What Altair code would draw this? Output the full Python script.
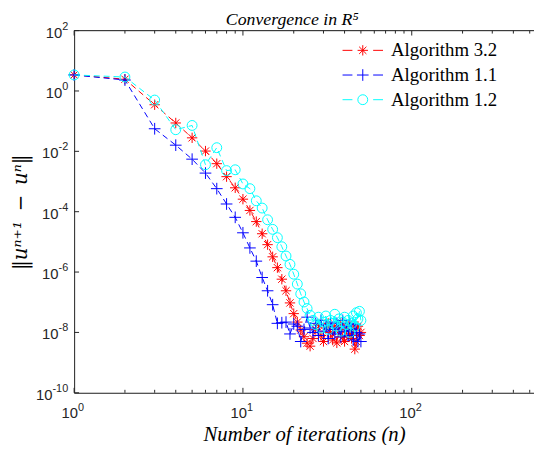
import altair as alt
import pandas as pd

iterations = list(range(1, 51))

alg32 = [3.4, 2.45, 3.5e-1, 8.7e-2, 2.8e-2, 1.02e-2, 3.9e-3, 1.45e-3, 6.2e-4, 2.6e-4,
         1.1e-4, 4.7e-5, 1.86e-5, 8.1e-6, 3.2e-6, 1.4e-6, 5.8e-7, 2.4e-7, 9.5e-8, 4.2e-8,
         2.2e-8, 1.2e-8, 7.2e-9, 4.4e-9, 3.5e-9, 6.3e-9, 1.26e-8, 1.8e-8, 7.9e-9, 5.0e-9,
         1.4e-8, 2.0e-8, 1.0e-8, 5.6e-9, 1.6e-8, 4.5e-9, 1.1e-8, 2.0e-8, 7.1e-9, 5.0e-9,
         1.26e-8, 1.8e-8, 8.9e-9, 6.3e-9, 1.4e-8, 2.8e-9, 5.0e-9, 1.6e-8, 7.9e-9, 1.0e-8]

alg11 = [3.4, 2.3, 5.6e-2, 1.6e-2, 5.5e-3, 1.9e-3, 5.8e-4, 1.8e-4, 6.5e-5, 2.0e-5,
         6.3e-6, 2.3e-6, 6.6e-7, 2.4e-7, 8.3e-8, 2.0e-8, 2.1e-8, 2.2e-8, 8.9e-9, 1.9e-8,
         1.6e-8, 5.0e-9, 1.26e-8, 3.2e-8, 1.4e-8, 1.0e-8, 2.0e-8, 7.9e-9, 2.5e-8, 1.1e-8,
         1.8e-8, 6.3e-9, 2.2e-8, 1.26e-8, 8.9e-9, 2.0e-8, 1.4e-8, 7.1e-9, 2.5e-8, 1.1e-8,
         1.6e-8, 7.9e-9, 2.0e-8, 1.26e-8, 5.6e-9, 1.8e-8, 1.0e-8, 5.0e-9, 8.9e-9, 5.0e-9]

alg12 = [3.4, 2.9, 5.0e-1, 5.2e-2, 7.2e-2, 3.6e-3, 1.32e-2, 2.3e-3, 2.45e-3, 8.3e-4,
         5.8e-4, 2.3e-4, 1.32e-4, 5.4e-5, 2.6e-5, 1.38e-5, 6.9e-6, 3.4e-6, 1.8e-6, 8.5e-7,
         4.0e-7, 1.9e-7, 1.02e-7, 6.2e-8, 3.7e-8, 2.5e-8, 1.8e-8, 3.2e-8, 1.4e-8, 2.2e-8,
         3.5e-8, 1.26e-8, 2.5e-8, 2.0e-8, 4.0e-8, 1.6e-8, 2.8e-8, 1.1e-8, 2.2e-8, 3.2e-8,
         1.8e-8, 2.5e-8, 1.0e-8, 2.0e-8, 3.5e-8, 1.6e-8, 4.5e-8, 2.8e-8, 5.0e-8, 2.5e-8]

series_names = ["Algorithm 3.2", "Algorithm 1.1", "Algorithm 1.2"]
series_colors = ["#ff0000", "#0000ff", "#00ffff"]

x_major_ticks = [1, 10, 100]
x_minor_ticks = [2, 3, 4, 5, 6, 7, 8, 9, 20, 30, 40, 50, 60, 70, 80, 90, 200, 300, 400, 500]
x_tick_exponents = ["0", "1", "2"]
y_ticks = [1e2, 1e0, 1e-2, 1e-4, 1e-6, 1e-8, 1e-10]
y_tick_exponents = ["2", "0", "-2", "-4", "-6", "-8", "-10"]
title_text = "Convergence in R⁵"

W, H = 466, 367
AX = "#262626"
ASTERISK = "M-1,0L1,0M0,-1L0,1M-0.7,-0.7L0.7,0.7M-0.7,0.7L0.7,-0.7"
PLUS = "M-1,0L1,0M0,-1L0,1"
shapes = [ASTERISK, PLUS, "circle"]
sizes = [110, 140, 100]

xs = alt.Scale(type="log", domain=[1, 530], nice=False)
ys = alt.Scale(type="log", domain=[1e-10, 1e2], nice=False)
xaxis = alt.Axis(title="Number of iterations (n)", labels=False, ticks=False, grid=False,
                 domainColor=AX, domainWidth=1, titleFont="Liberation Serif",
                 titleFontStyle="italic", titleFontWeight="normal", titleFontSize=21,
                 titleColor="#000000", titlePadding=31)
yaxis = alt.Axis(title="‖uⁿ⁺¹\u2002−\u2002uⁿ‖", labels=False, ticks=False, grid=False,
                 domainColor=AX, domainWidth=1, titleFont="DejaVu Serif",
                 titleFontStyle="italic", titleFontWeight="normal", titleFontSize=20,
                 titleColor="#000000", titlePadding=44)


def X(f):
    return alt.X(f, type="quantitative", scale=xs, axis=xaxis)


def Y(f):
    return alt.Y(f, type="quantitative", scale=ys, axis=yaxis)


layers = []
for vals, col, shp, sz in zip([alg32, alg11, alg12], series_colors, shapes, sizes):
    d = pd.DataFrame({"n": iterations, "v": vals})
    base = alt.Chart(d)
    layers.append(base.mark_line(color=col, strokeDash=[6, 4], strokeWidth=1).encode(x=X("n"), y=Y("v")))
    layers.append(base.mark_point(shape=shp, filled=False, size=sz, strokeWidth=1, color=col, opacity=1)
                  .encode(x=X("n"), y=Y("v")))

dmaj = pd.DataFrame({"t": x_major_ticks, "e": x_tick_exponents})
dmin = pd.DataFrame({"t": x_minor_ticks})
dy = pd.DataFrame({"t": y_ticks, "e": y_tick_exponents})

layers.append(alt.Chart(dmaj).mark_rule(color=AX, strokeWidth=1).encode(x=X("t"), y=alt.value(H), y2=alt.value(H - 5)))
layers.append(alt.Chart(dmaj).mark_rule(color=AX, strokeWidth=1).encode(x=X("t"), y=alt.value(0), y2=alt.value(5)))
layers.append(alt.Chart(dmin).mark_rule(color=AX, strokeWidth=1).encode(x=X("t"), y=alt.value(H), y2=alt.value(H - 3)))
layers.append(alt.Chart(dmin).mark_rule(color=AX, strokeWidth=1).encode(x=X("t"), y=alt.value(0), y2=alt.value(3)))
layers.append(alt.Chart(dy).mark_rule(color=AX, strokeWidth=1).encode(y=Y("t"), x=alt.value(0), x2=alt.value(5)))
layers.append(alt.Chart(pd.DataFrame({"a": [0]})).mark_rule(color=AX, strokeWidth=1)
              .encode(x=alt.value(0), x2=alt.value(W), y=alt.value(0)))

# x tick labels: "10" plus raised exponent
layers.append(alt.Chart(dmaj).mark_text(font="Liberation Sans", fontSize=15, color=AX, align="right",
                                        baseline="middle", dx=4)
              .encode(x=X("t"), y=alt.value(H + 21), text=alt.value("10")))
layers.append(alt.Chart(dmaj).mark_text(font="Liberation Sans", fontSize=11, color=AX, align="left",
                                        baseline="middle", dx=4)
              .encode(x=X("t"), y=alt.value(H + 15), text="e:N"))

# y tick labels: right-aligned exponent, base placed to its left
layers.append(alt.Chart(dy).mark_text(font="Liberation Sans", fontSize=11, color=AX, align="right",
                                      baseline="middle", dy=-4)
              .encode(y=Y("t"), x=alt.value(-6), text="e:N"))
layers.append(alt.Chart(dy).transform_calculate(
    px="-6 - (length(datum.e) - (indexof(datum.e, '-') >= 0 ? 1 : 0)) * 6.1 - (indexof(datum.e, '-') >= 0 ? 3.7 : 0)"
).mark_text(font="Liberation Sans", fontSize=15, color=AX, align="right", baseline="middle", dy=2)
              .encode(y=Y("t"), x=alt.X("px:Q", scale=None, axis=None), text=alt.value("10")))

# title
layers.append(alt.Chart(pd.DataFrame({"lab": [title_text]})).mark_text(
    font="Liberation Serif", fontStyle="italic", fontSize=18, color="#000000", align="center", baseline="alphabetic")
              .encode(x=alt.value(W / 2 - 12), y=alt.value(-6), text="lab:N"))

# legend
leg_y = [20, 45, 70]
for name, col, shp, sz, yy in zip(series_names, series_colors, shapes, sizes, leg_y):
    one = alt.Chart(pd.DataFrame({"lab": [name]}))
    layers.append(one.mark_rule(color=col, strokeWidth=1).encode(x=alt.value(272), x2=alt.value(282), y=alt.value(yy)))
    layers.append(one.mark_rule(color=col, strokeWidth=1).encode(x=alt.value(303), x2=alt.value(313), y=alt.value(yy)))
    layers.append(one.mark_point(shape=shp, filled=False, size=sz, strokeWidth=1, color=col, opacity=1)
                  .encode(x=alt.value(292.5), y=alt.value(yy)))
    layers.append(one.mark_text(font="Liberation Serif", fontSize=19, color="#000000", align="left", baseline="middle")
                  .encode(x=alt.value(321), y=alt.value(yy), text="lab:N"))

chart = alt.layer(*layers).properties(
    width=W, height=H,
    autosize=alt.AutoSizeParams(type="none"),
    padding={"left": 67, "top": 20, "right": 0, "bottom": 50},
).configure_view(stroke=None).configure(background="white")

chart.save("out.html", embed_options={"renderer": "svg", "actions": False})
